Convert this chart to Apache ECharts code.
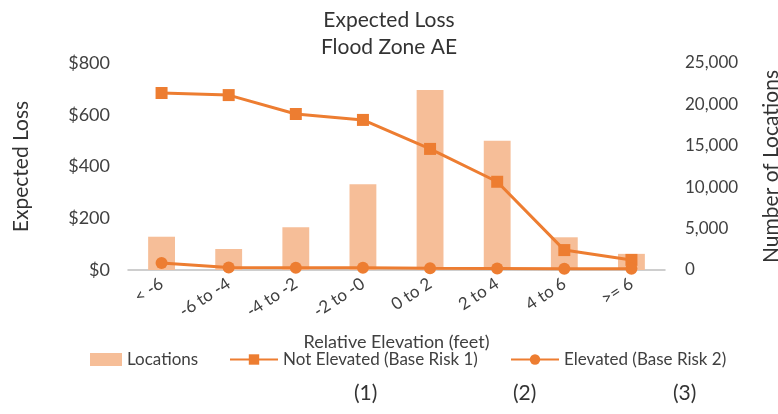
<!DOCTYPE html>
<html>
<head>
<meta charset="UTF-8">
<title>Expected Loss</title>
<script src="https://cdn.jsdelivr.net/npm/echarts@6/dist/echarts.min.js"></script>
<style>
    html,body{margin:0;padding:0;background:#fff;}
    #chart{width:778px;height:414px;}
</style>
</head>
<body>
<div id="chart"></div>
<script>
    let categories=['< -6','-6 to -4','-4 to -2','-2 to -0','0 to 2','2 to 4','4 to 6','>= 6'];
    let locations=[4020,2540,5160,10350,21750,15600,3950,1950];
    let notElevated=[684,676,603,580,468,341,77,39];
    let elevated=[27,10,9,9,7,6,5,5];
    let leftTicks=['$0','$200','$400','$600','$800'];

    let font='Lato';
    let orange='#ED7D31';
    let barColor='#F6BE98';
    let legendText={fontFamily:font,fontSize:17,color:'#404040'};
    let myChart=echarts.init(document.getElementById('chart'));
    let option={
        textStyle:{fontFamily:font,color:'#404040'},
        title:{
            text:'Expected Loss\nFlood Zone AE',
            left:'center',top:2,
            textStyle:{fontFamily:font,fontSize:21,fontWeight:'normal',color:'#333',lineHeight:27}
        },
        grid:{left:128,right:113,top:63,bottom:144,outerBoundsMode:'none',containLabel:false},
        legend:[
            {left:90,top:351,padding:0,itemWidth:32,itemHeight:13,textStyle:legendText,
                data:[{name:'Locations',icon:'rect',itemStyle:{color:barColor}}]},
            {left:229,top:351,padding:0,itemWidth:48,itemHeight:13,textStyle:legendText,
                data:['Not Elevated (Base Risk 1)']},
            {left:510,top:351,padding:0,itemWidth:48,itemHeight:13,textStyle:legendText,
                data:['Elevated (Base Risk 2)']}
        ],
        xAxis:{
            type:'category',data:categories,
            name:'Relative Elevation (feet)',nameLocation:'middle',nameGap:63,
            nameTextStyle:{fontFamily:font,fontSize:18,color:'#404040'},
            axisLine:{lineStyle:{color:'#BFBFBF',width:1.5}},
            axisTick:{show:false},
            axisLabel:{rotate:33,fontSize:17,color:'#404040',margin:12,fontFamily:font}
        },
        yAxis:[{
            type:'value',min:0,max:800,interval:200,
            name:'Expected Loss',nameLocation:'middle',nameGap:96,
            nameTextStyle:{fontFamily:font,fontSize:21,color:'#333'},
            splitLine:{show:false},axisLine:{show:false},axisTick:{show:false},
            axisLabel:{fontSize:18,color:'#404040',margin:18,fontFamily:font,
                formatter:function(v){return leftTicks[v/200];}}
        },{
            type:'value',min:0,max:25000,interval:5000,
            name:'Number of Locations',nameLocation:'middle',nameGap:96,
            nameTextStyle:{fontFamily:font,fontSize:21,color:'#333'},
            splitLine:{show:false},axisLine:{show:false},axisTick:{show:false},
            axisLabel:{fontSize:17,color:'#404040',margin:20,fontFamily:font,
                formatter:function(v){return v.toLocaleString('en-US');}}
        }],
        series:[{
            name:'Locations',type:'bar',yAxisIndex:1,data:locations,barWidth:'40%',
            itemStyle:{color:barColor}
        },{
            name:'Not Elevated (Base Risk 1)',type:'line',data:notElevated,
            symbol:'rect',symbolSize:12,
            lineStyle:{color:orange,width:3},itemStyle:{color:orange}
        },{
            name:'Elevated (Base Risk 2)',type:'line',data:elevated,
            symbol:'circle',symbolSize:12,
            lineStyle:{color:orange,width:3},itemStyle:{color:orange}
        }],
        graphic:[
            {type:'text',left:354,top:383,style:{text:'(1)',fontSize:21,fontFamily:font,fill:'#333'}},
            {type:'text',left:513,top:383,style:{text:'(2)',fontSize:21,fontFamily:font,fill:'#333'}},
            {type:'text',left:673,top:383,style:{text:'(3)',fontSize:21,fontFamily:font,fill:'#333'}}
        ]
    };
    myChart.setOption(option);
</script>
</body>
</html>
